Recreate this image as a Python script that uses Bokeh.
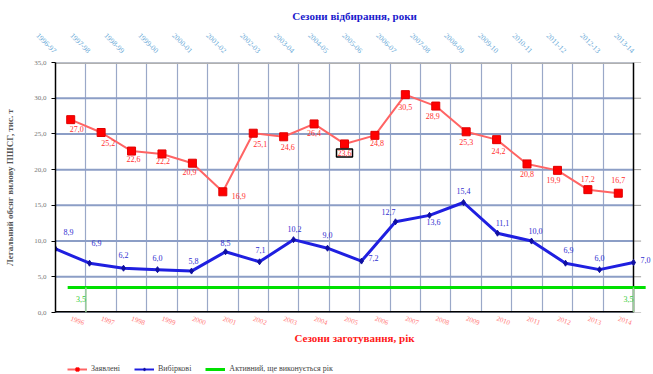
import math
from bokeh.plotting import figure
from bokeh.layouts import column
from bokeh.models import (Range1d, LinearAxis, FixedTicker, ColumnDataSource,
                          LabelSet, Label, Legend, LegendItem)
from bokeh.embed import file_html
from bokeh.resources import INLINE

# Catch seasons (bottom axis) and declared catch, thousand tonnes
years = ["1996", "1997", "1998", "1999", "2000", "2001", "2002", "2003", "2004", "2005",
         "2006", "2007", "2008", "2009", "2010", "2011", "2012", "2013", "2014"]
declared = [27.0, 25.2, 22.6, 22.2, 20.9, 16.9, 25.1, 24.6, 26.4, 23.6,
            24.8, 30.5, 28.9, 25.3, 24.2, 20.8, 19.9, 17.2, 16.7]

# Sampling seasons (top axis) and sampled catch
seasons = ["1996-97", "1997-98", "1998-99", "1999-00", "2000-01", "2001-02", "2002-03",
           "2003-04", "2004-05", "2005-06", "2006-07", "2007-08", "2008-09", "2009-10",
           "2010-11", "2011-12", "2012-13", "2013-14"]
sampled = [8.9, 6.9, 6.2, 6.0, 5.8, 8.5, 7.1, 10.2, 9.0, 7.2,
           12.7, 13.6, 15.4, 11.1, 10.0, 6.9, 6.0, 7.0]

# Current active level
active_level = 3.5

y_ticks = [0, 5, 10, 15, 20, 25, 30, 35]

FONT = "Liberation Serif"

RED_LINE, RED_MARK = "#ff6464", "#ff0000"
BLUE_LINE, BLUE_MARK = "#1f1fe0", "#1010a0"
GREEN = "#00e000"


def fmt(v):
    return f"{v:.1f}".replace(".", ",")


n_bottom = len(years)
n_top = len(seasons)

# The drawing area is 578 px wide; a 20 px margin on the right is kept inside
# the frame so that marks and labels may spill past the right border.
W, PAD = 578.0, 20.0
x_hi = n_bottom * (1 + PAD / W)
top_hi = (n_top - 1) * (1 + PAD / W)

p = figure(width=653, height=354, output_backend="svg", toolbar_location=None,
           x_range=Range1d(0, x_hi), y_range=Range1d(0, 35),
           min_border_left=55, min_border_right=0, min_border_top=62,
           min_border_bottom=42, background_fill_color="white",
           border_fill_color="white", outline_line_color=None)
p.extra_x_ranges = {"top": Range1d(0, top_hi)}
p.xaxis.visible = False
p.yaxis.visible = False

# Vertical grid at category boundaries
p.xgrid.ticker = FixedTicker(ticks=list(range(1, n_bottom)))
p.xgrid.grid_line_color = "#9aa8c8"
p.xgrid.grid_line_width = 1.2
p.ygrid.visible = False

# Horizontal grid lines and the right-hand tick stubs
p.segment(x0=[0] * len(y_ticks), x1=[n_bottom] * len(y_ticks), y0=y_ticks, y1=y_ticks,
          line_color="#8c9ec6", line_width=2)
p.segment(x0=[n_bottom] * len(y_ticks), x1=[n_bottom + 0.25] * len(y_ticks),
          y0=y_ticks, y1=y_ticks, line_color="#999999", line_width=1)

# Frame lines: top (grey), right and bottom (black)
p.segment(x0=[0], x1=[n_bottom], y0=[35], y1=[35], line_color="#b0b0b0", line_width=3)
p.segment(x0=[n_bottom], x1=[n_bottom], y0=[0], y1=[35], line_color="black", line_width=1.5)
p.segment(x0=[0], x1=[n_bottom], y0=[0], y1=[0], line_color="black", line_width=3)

# Left axis
left = LinearAxis(ticker=FixedTicker(ticks=y_ticks),
                  major_label_overrides={t: fmt(t) for t in y_ticks},
                  axis_label="Легальний обсяг вилову ПШСГ, тис. т")
left.major_label_text_font = FONT
left.major_label_text_font_size = "7px"
left.major_label_text_color = "#777777"
left.major_tick_out = 4
left.major_tick_in = 0
left.minor_tick_line_color = None
left.axis_line_color = "black"
left.axis_line_width = 1.5
left.axis_label_text_font = FONT
left.axis_label_text_font_size = "9px"
left.axis_label_text_font_style = "bold"
left.axis_label_text_color = "#555555"
left.axis_label_standoff = 16
p.add_layout(left, "left")

# Bottom axis: catch seasons
centers = [i + 0.5 for i in range(n_bottom)]
bottom = LinearAxis(ticker=FixedTicker(ticks=centers),
                    major_label_overrides={c: y for c, y in zip(centers, years)},
                    axis_label="Сезони заготування, рік")
bottom.major_label_orientation = -0.35
bottom.major_label_text_font = FONT
bottom.major_label_text_font_size = "7px"
bottom.major_label_text_color = "#ff7a7a"
bottom.major_label_standoff = 6
bottom.major_tick_out = 0
bottom.major_tick_in = 0
bottom.minor_tick_line_color = None
bottom.axis_line_color = None
bottom.axis_label_text_font = FONT
bottom.axis_label_text_font_size = "11px"
bottom.axis_label_text_font_style = "bold"
bottom.axis_label_text_color = "#ff1a1a"
bottom.axis_label_standoff = 2
p.add_layout(bottom, "below")

# Top axis: sampling seasons
top_ticks = list(range(n_top))
top = LinearAxis(x_range_name="top", ticker=FixedTicker(ticks=top_ticks),
                 major_label_overrides={t: s for t, s in zip(top_ticks, seasons)},
                 axis_label="Сезони відбирання, роки")
top.major_label_orientation = -math.pi / 4
top.major_label_text_font = FONT
top.major_label_text_font_size = "7.5px"
top.major_label_text_color = "#6aaad8"
top.major_label_standoff = 11
top.major_tick_out = 0
top.major_tick_in = 0
top.minor_tick_line_color = None
top.axis_line_color = None
top.axis_label_text_font = FONT
top.axis_label_text_font_size = "11px"
top.axis_label_text_font_style = "bold"
top.axis_label_text_color = "#1a1acc"
top.axis_label_standoff = 5
p.add_layout(top, "above")

# Active level line with its end marks
p.line(x=[centers[0] - 0.1, n_bottom + 0.4], y=[active_level, active_level],
       line_color=GREEN, line_width=3)
p.segment(x0=[1, n_bottom], y0=[0, 0], x1=[1, n_bottom],
          y1=[active_level, active_level], line_color="#9bcf9b", line_width=1.5)
green_lbl = ColumnDataSource(dict(x=[1, n_bottom], y=[active_level, active_level],
                                  t=[fmt(active_level)] * 2))
p.add_layout(LabelSet(x="x", y="y", text="t", source=green_lbl, x_offset=-5,
                      y_offset=-14, text_font=FONT, text_font_size="8px",
                      text_color="#33cc33", text_align="center"))

# Declared series
red_src = ColumnDataSource(dict(x=centers, y=declared))
p.line("x", "y", source=red_src, line_color=RED_LINE, line_width=2)
p.scatter("x", "y", source=red_src, marker="square", size=8,
          fill_color=RED_MARK, line_color="#e00000")

red_dx = [6, 7, 2, 1, -3, 16, 7, 4, 0, 0, 2, 0, -3, 0, 2, 0, -4, 0, 0]
red_dy = [-9, -10, -8, -7, -9, -4, -11, -10, -9, -9, -8, -12, -10, -10, -11, -10, -10, 11, 13]
boxed = 9
keep = [i for i in range(n_bottom) if i != boxed]
red_lbl = ColumnDataSource(dict(x=[centers[i] for i in keep],
                                y=[declared[i] for i in keep],
                                t=[fmt(declared[i]) for i in keep],
                                dx=[red_dx[i] for i in keep],
                                dy=[red_dy[i] for i in keep]))
p.add_layout(LabelSet(x="x", y="y", text="t", source=red_lbl, x_offset="dx",
                      y_offset="dy", text_font=FONT, text_font_size="8px",
                      text_color="#ff3030", text_align="center",
                      text_baseline="middle"))
p.add_layout(Label(x=centers[boxed], y=declared[boxed], text=fmt(declared[boxed]),
                   x_offset=red_dx[boxed], y_offset=red_dy[boxed], text_font=FONT,
                   text_font_size="8px", text_color="#ff3030", text_align="center",
                   text_baseline="middle", border_line_color="black",
                   border_line_width=1.5, background_fill_color="white", padding=1))

# Sampled series (on the top axis)
blue_src = ColumnDataSource(dict(x=top_ticks, y=sampled))
p.line("x", "y", source=blue_src, x_range_name="top", line_color=BLUE_LINE, line_width=3)
p.scatter("x", "y", source=blue_src, x_range_name="top", marker="diamond",
          size=6, fill_color=BLUE_MARK, line_color=BLUE_MARK)
blue_dx = [13, 7, 0, 0, 2, 0, 1, 1, 0, 12, -7, 4, 0, 5, 4, 3, 0, 12]
blue_dy = [17, 20, 13, 12, 10, 9, 12, 11, 13, 3, 10, -7, 12, 10, 10, 13, 12, 3]
blue_lbl = ColumnDataSource(dict(x=top_ticks, y=sampled, t=[fmt(v) for v in sampled],
                                 dx=blue_dx, dy=blue_dy))
p.add_layout(LabelSet(x="x", y="y", text="t", source=blue_lbl, x_range_name="top",
                      x_offset="dx", y_offset="dy", text_font=FONT,
                      text_font_size="8px", text_color="#3030d0",
                      text_align="center", text_baseline="middle"))

# Legend strip under the chart; its swatch renderers sit outside the visible range
lf = figure(width=653, height=20, output_backend="svg", toolbar_location=None,
            x_range=Range1d(0, 1), y_range=Range1d(0, 1), min_border=0,
            outline_line_color=None, background_fill_color="white",
            border_fill_color="white")
lf.axis.visible = False
lf.grid.visible = False
off = dict(x=[-5, -4], y=[-5, -5])
r_l = lf.line("x", "y", source=ColumnDataSource(off), line_color=RED_LINE, line_width=2)
r_m = lf.scatter("x", "y", source=ColumnDataSource(off), marker="square", size=5,
                 fill_color=RED_MARK, line_color=RED_MARK)
b_l = lf.line("x", "y", source=ColumnDataSource(off), line_color=BLUE_LINE, line_width=2)
b_m = lf.scatter("x", "y", source=ColumnDataSource(off), marker="diamond", size=6,
                 fill_color=BLUE_MARK, line_color=BLUE_MARK)
g_l = lf.line("x", "y", source=ColumnDataSource(off), line_color=GREEN, line_width=3)
legend = Legend(items=[
    LegendItem(label="Заявлені", renderers=[r_l, r_m]),
    LegendItem(label="Вибіркові", renderers=[b_l, b_m]),
    LegendItem(label="Активний, ще виконується рік", renderers=[g_l]),
], orientation="horizontal", location=(12, 1))
legend.label_text_font = FONT
legend.label_text_font_size = "8px"
legend.label_text_color = "#444444"
legend.label_height = 8
legend.label_width = 10
legend.label_standoff = 4
legend.glyph_width = 20
legend.glyph_height = 8
legend.spacing = 14
legend.padding = 1
legend.margin = 0
legend.border_line_color = None
legend.background_fill_alpha = 0
lf.add_layout(legend, "center")

open("out.html", "w").write(file_html(column(p, lf, spacing=0), INLINE))
